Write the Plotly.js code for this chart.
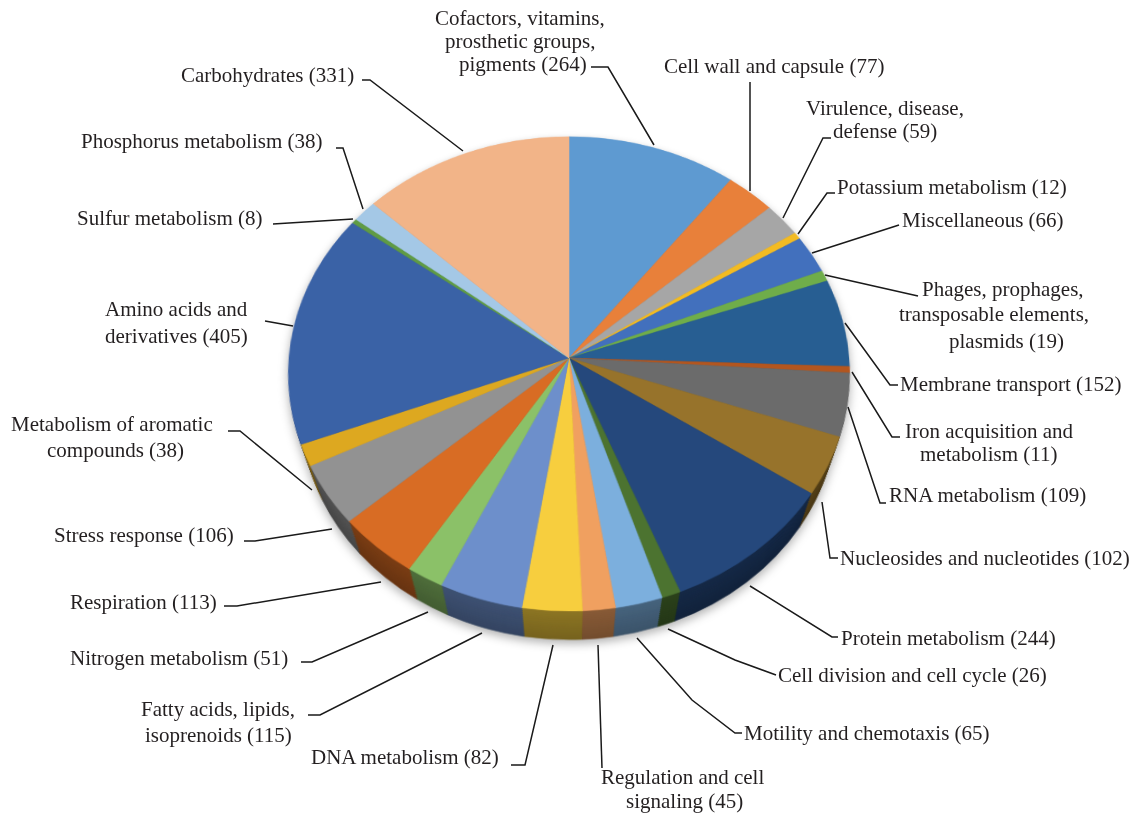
<!DOCTYPE html>
<html>
<head>
<meta charset="utf-8">
<script src="https://cdn.plot.ly/plotly-3.0.1.min.js"></script>
<style>
  html, body { margin: 0; padding: 0; background: #fff; }
  #chart { width: 1136px; height: 814px; }
</style>
</head>
<body>
<div id="chart"></div>
<script>
// Subsystem feature counts, clockwise from twelve o'clock
const categories = [
  "Cofactors, vitamins, prosthetic groups, pigments", "Cell wall and capsule",
  "Virulence, disease, defense", "Potassium metabolism", "Miscellaneous",
  "Phages, prophages, transposable elements, plasmids", "Membrane transport",
  "Iron acquisition and metabolism", "RNA metabolism", "Nucleosides and nucleotides",
  "Protein metabolism", "Cell division and cell cycle", "Motility and chemotaxis",
  "Regulation and cell signaling", "DNA metabolism", "Fatty acids, lipids, isoprenoids",
  "Nitrogen metabolism", "Respiration", "Stress response",
  "Metabolism of aromatic compounds", "Amino acids and derivatives", "Sulfur metabolism",
  "Phosphorus metabolism", "Carbohydrates"
];
const counts = [264, 77, 59, 12, 66, 19, 152, 11, 109, 102, 244, 26, 65, 45, 82, 115, 51, 113, 106, 38, 405, 8, 38, 331];
const faceColors = [
  "#5e9ad1", "#e8803a", "#a6a6a6", "#f3bb22", "#4270bd", "#6fad4a", "#275e92", "#b3561f",
  "#6b6b6b", "#97732b", "#25487c", "#4c7330", "#7cafdd", "#f0a060", "#f7ce3e", "#6d8fcb",
  "#8bc168", "#d86c24", "#929292", "#dda820", "#3a62a6", "#5f9b45", "#a4c8e6", "#f2b488"
];

// Each printed line of a label: text, anchor x and y in page pixels, anchor side
const labelLines = [
  ["Cofactors, vitamins,", 520, 18, "center"],
  ["prosthetic groups,", 520, 41, "center"],
  ["pigments (264)", 523, 64, "center"],
  ["Cell wall and capsule (77)", 664, 66, "left"],
  ["Virulence, disease,", 885, 108, "center"],
  ["defense (59)", 885, 131, "center"],
  ["Potassium metabolism (12)", 837, 187, "left"],
  ["Miscellaneous (66)", 902, 220, "left"],
  ["Phages, prophages,", 1003, 289, "center"],
  ["transposable elements,", 994, 314, "center"],
  ["plasmids (19)", 1006, 341, "center"],
  ["Membrane transport (152)", 900, 384, "left"],
  ["Iron acquisition and", 989, 431, "center"],
  ["metabolism (11)", 988, 454, "center"],
  ["RNA metabolism (109)", 889, 495, "left"],
  ["Nucleosides and nucleotides (102)", 840, 558, "left"],
  ["Protein metabolism (244)", 841, 638, "left"],
  ["Cell division and cell cycle (26)", 778, 675, "left"],
  ["Motility and chemotaxis (65)", 744, 733, "left"],
  ["Regulation and cell", 682, 777, "center"],
  ["signaling (45)", 684, 801, "center"],
  ["DNA metabolism (82)", 499, 757, "right"],
  ["Fatty acids, lipids,", 218, 709, "center"],
  ["isoprenoids (115)", 218, 735, "center"],
  ["Nitrogen metabolism (51)", 288, 658, "right"],
  ["Respiration (113)", 217, 602, "right"],
  ["Stress response (106)", 234, 535, "right"],
  ["Metabolism of aromatic", 112, 424, "center"],
  ["compounds (38)", 115, 450, "center"],
  ["Amino acids and", 105, 309, "left"],
  ["derivatives (405)", 105, 336, "left"],
  ["Sulfur metabolism (8)", 262, 218, "right"],
  ["Phosphorus metabolism (38)", 323, 141, "right"],
  ["Carbohydrates (331)", 354, 75, "right"]
];

// Leader polylines from each label to its slice, in page pixels
const leaderPaths = [
  [[591, 67], [608, 67], [654, 145]],
  [[750, 82], [750, 191]],
  [[831, 138], [823, 138], [783, 218]],
  [[835, 193], [827, 193], [798, 234]],
  [[899, 225], [812, 253]],
  [[825, 275], [918, 296]],
  [[845, 323], [890, 385], [898, 385]],
  [[852, 372], [892, 437], [900, 437]],
  [[848, 407], [880, 503], [886, 503]],
  [[822, 502], [830, 558], [838, 558]],
  [[750, 586], [832, 637], [838, 637]],
  [[668, 629], [735, 660], [776, 675]],
  [[637, 638], [692, 700], [735, 733], [742, 733]],
  [[598, 645], [602, 768]],
  [[553, 645], [525, 765], [511, 765]],
  [[482, 633], [320, 715], [308, 715]],
  [[428, 612], [312, 662], [301, 662]],
  [[381, 582], [237, 606], [224, 606]],
  [[332, 529], [255, 541], [244, 541]],
  [[312, 490], [240, 431], [228, 431]],
  [[293, 326], [265, 321]],
  [[353, 219], [273, 224]],
  [[363, 209], [343, 148], [336, 148]],
  [[463, 151], [370, 80], [362, 80]]
];

const W = 1136, H = 814;
const CX = 569, CY = 358, R = 280;   // disc centre and radius before tilting
const DEPTH = 45, DEPTH_STEP = 3;    // how far the wall discs sink
const TAPER = 0.35;                  // radius lost per unit of sinking
const WALL_SHADE = 0.48;

const px = x => x / W;
const py = y => 1 - y / H;

function shade(hex, f) {
  const n = parseInt(hex.slice(1), 16);
  const c = [n >> 16 & 255, n >> 8 & 255, n & 255].map(v => Math.round(v * f));
  return "rgb(" + c.join(",") + ")";
}

function disc(offset, colors) {
  const r = R - offset * TAPER;
  return {
    type: "pie",
    labels: categories,
    values: counts,
    sort: false,
    direction: "clockwise",
    rotation: 0,
    textinfo: "none",
    hoverinfo: "skip",
    showlegend: false,
    domain: {
      x: [px(CX - r), px(CX + r)],
      y: [py(CY + offset + r), py(CY + offset - r)]
    },
    marker: { colors: colors, line: { color: colors, width: 0.6 } }
  };
}

// The wall is a stack of darkened, tapering discs, deepest first, face on top
const traces = [];
for (let d = DEPTH; d > 0; d -= DEPTH_STEP) {
  traces.push(disc(d, faceColors.map(c => shade(c, WALL_SHADE + (DEPTH - d) * 0.002))));
}
traces.push(disc(0, faceColors));

const annotations = labelLines.map(([text, x, y, anchor]) => ({
  text: text, x: px(x), y: py(y), xref: "paper", yref: "paper",
  xanchor: anchor, yanchor: "middle", align: anchor, showarrow: false,
  borderpad: 0, borderwidth: 0,
  font: { family: "Liberation Serif, serif", size: 21, color: "#231f20" }
}));

const shapes = leaderPaths.map(points => ({
  type: "path",
  xref: "paper", yref: "paper",
  path: points.map((p, i) => (i ? "L" : "M") + px(p[0]) + " " + py(p[1])).join(" "),
  line: { color: "#1a1a1a", width: 1.5 },
  layer: "above"
}));

const layout = {
  width: W, height: H,
  margin: { l: 0, r: 0, t: 0, b: 0 },
  paper_bgcolor: "rgba(0,0,0,0)",
  plot_bgcolor: "rgba(0,0,0,0)",
  showlegend: false,
  annotations: annotations,
  shapes: shapes
};

Plotly.newPlot("chart", traces, layout, { displayModeBar: false, staticPlot: true }).then(gd => {
  // Tilt only the layer holding the discs; labels and leaders stay flat
  const base = gd.querySelector(".main-svg");
  base.style.overflow = "visible";
  base.style.background = "transparent";
  base.style.transformOrigin = CX + "px " + CY + "px";
  base.style.transform = "perspective(2246px) rotateX(32.5deg)";
  base.style.filter = "drop-shadow(0 4px 5px rgba(0,0,0,0.3))";
});
</script>
</body>
</html>
